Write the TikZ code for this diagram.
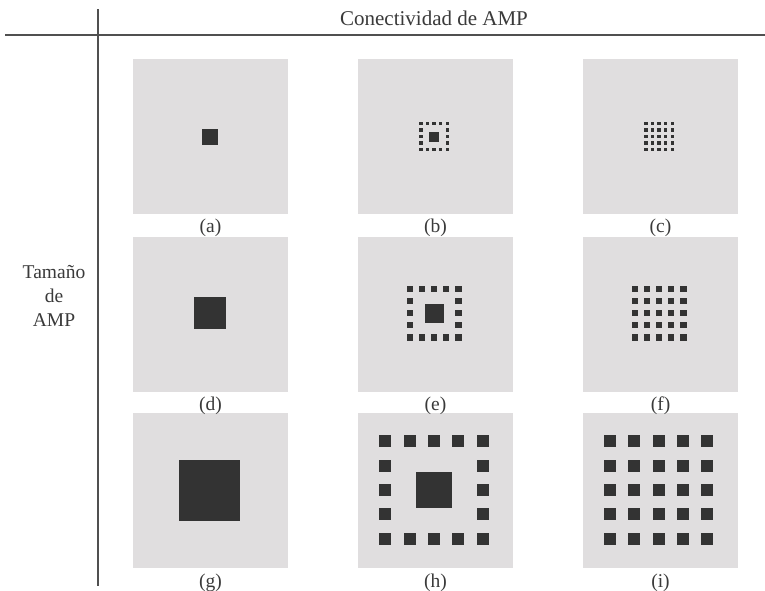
\documentclass[tikz,border=0pt]{standalone}
\usepackage{fontspec}
\setmainfont{Liberation Serif}
\begin{document}
\begin{tikzpicture}[x=1pt,y=-1pt,
  panel/.style={fill=panelgray,draw=none,minimum width=155pt,minimum height=155pt,inner sep=0pt,outer sep=0pt},
  lbl/.style={font=\fontsize{19.5}{22}\selectfont,text=txtgray,inner sep=0pt},
  hdr/.style={font=\fontsize{21}{24}\selectfont,text=txtgray,inner sep=0pt},
  rule/.style={draw=linegray,line width=1.3pt}]
\definecolor{panelgray}{HTML}{E0DEDF}
\definecolor{blk}{HTML}{333333}
\definecolor{linegray}{HTML}{505050}
\definecolor{txtgray}{HTML}{3A3A3A}
\useasboundingbox[fill=white] (0,0) rectangle (765,590);
\newcommand\blk[3]{\fill[blk] ({#1-#3/2},{#2-#3/2}) rectangle ({#1+#3/2},{#2+#3/2});}
% ring pattern: cx cy pitch size centersize
\newcommand\ringpat[5]{%
  \foreach \i in {-2,...,2}{\blk{#1+\i*#3}{#2-2*#3}{#4}\blk{#1+\i*#3}{#2+2*#3}{#4}}
  \foreach \j in {-1,0,1}{\blk{#1-2*#3}{#2+\j*#3}{#4}\blk{#1+2*#3}{#2+\j*#3}{#4}}
  \blk{#1}{#2}{#5}}
\newcommand\gridpat[4]{%
  \foreach \i in {-2,...,2}{\foreach \j in {-2,...,2}{\blk{#1+\i*#3}{#2+\j*#3}{#4}}}}
% rules
\coordinate (hl) at (5,35);
\coordinate (hr) at (765,35);
\coordinate (vt) at (98,9);
\coordinate (vb) at (98,586);
\draw[rule] (hl) -- (hr);
\draw[rule] (vt) -- (vb);
\node[hdr] (head) at (434,18) {Conectividad de AMP};
\node[lbl,align=center,font=\fontsize{19.5}{24}\selectfont] (side) at (54,296) {Tamaño\\de\\AMP};
% panels
\foreach \c/\x in {1/210.5,2/435.5,3/660.5}{
  \foreach \r/\y in {1/136.5,2/314.5,3/490.5}{
    \node[panel] (p\c\r) at (\x,\y) {};
  }}
% labels
\node[lbl] (la) at (210.5,227.5) {(a)};
\node[lbl] (lb) at (435.5,227.5) {(b)};
\node[lbl] (lc) at (660.5,227.5) {(c)};
\node[lbl] (ld) at (210.5,405.5) {(d)};
\node[lbl] (le) at (435.5,405.5) {(e)};
\node[lbl] (lf) at (660.5,405.5) {(f)};
\node[lbl] (lg) at (210.5,582.5) {(g)};
\node[lbl] (lh) at (435.5,582.5) {(h)};
\node[lbl] (li) at (660.5,582.5) {(i)};
% patterns
\blk{210}{136.5}{16}
\ringpat{434}{136.5}{6.6}{3.4}{10}
\gridpat{659}{136.5}{6.6}{3.4}
\blk{210}{313}{32}
\ringpat{434}{313}{12.1}{6.6}{19}
\gridpat{659}{313}{12.1}{6.6}
\blk{209.5}{490}{61}
\ringpat{434}{490}{24.3}{12}{36}
\gridpat{658.5}{490}{24.3}{12}
\end{tikzpicture}
\end{document}
